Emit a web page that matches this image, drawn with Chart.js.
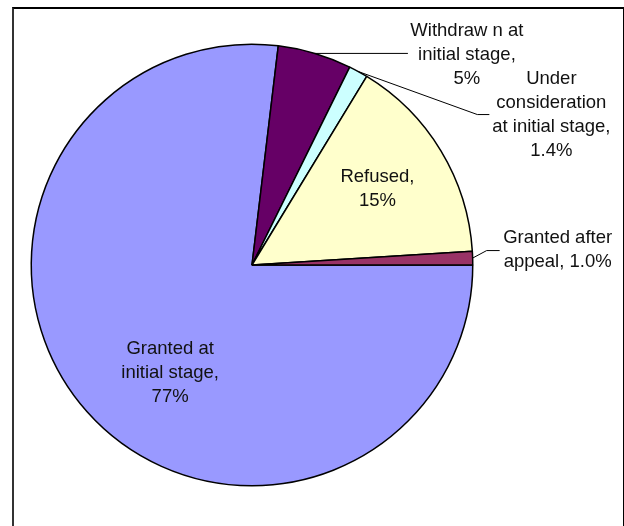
<!DOCTYPE html>
<html>
<head>
<meta charset="utf-8">
<script src="https://cdn.jsdelivr.net/npm/chart.js@4.4.1/dist/chart.umd.min.js"></script>
<style>
    html, body { margin: 0; padding: 0; background: #fff; }
    .chart-wrap { position: relative; width: 624px; height: 526px; }
    .chart-wrap canvas { position: absolute; left: 0; top: 0; }
    .chart-frame {
        position: absolute; left: 12px; top: 7px; width: 609px; height: 530px;
        border-top: 2px solid #000; border-left: 2px solid #333; border-right: 2px solid #000;
    }
</style>
</head>
<body>
<div class="chart-wrap">
    <div class="chart-frame"></div>
    <canvas id="pie" width="624" height="526"></canvas>
</div>
<script>
// slices, clockwise from 3 o'clock
const categories = ['Granted at initial stage', 'Withdrawn at initial stage', 'Under consideration at initial stage', 'Refused', 'Granted after appeal']
const shares = [76.9, 5.4, 1.4, 15.3, 1.0]
const labelLines = [
    ['Granted at', 'initial stage,', '77%'],
    ['Withdraw n at', 'initial stage,', '5%'],
    ['Under', 'consideration', 'at initial stage,', '1.4%'],
    ['Refused,', '15%'],
    ['Granted after', 'appeal, 1.0%']
]
const sliceColors = ['#9999FF', '#660066', '#CCFFFF', '#FFFFCC', '#993366']

// label placement: inside labels sit on the mid angle at a fraction of the radius,
// outside labels hang off the arc edge with a leader line
const labelPlacement = [
    { inside: true, rf: 0.617, dx: 20, dy: 18 },
    { inside: false, dx: 152, dy: 1, ex: 93, ey: 0, elbow: 0 },
    { inside: false, dx: 193, dy: 43, ex: 131, ey: 43, elbow: 12 },
    { inside: true, rf: 0.664, dx: 0, dy: 0 },
    { inside: false, dx: 85, dy: -8.5, ex: 27, ey: -7.5, elbow: 13 }
]

const LINE_HEIGHT = 24
const FONT = '18.5px "Liberation Sans", Arial, sans-serif'

const pieLabels = {
    id: 'pieLabels',
    afterDatasetsDraw: function (chart) {
        const ctx = chart.ctx
        const meta = chart.getDatasetMeta(0)
        ctx.save()
        ctx.font = FONT
        ctx.fillStyle = '#111'
        ctx.textAlign = 'center'
        ctx.textBaseline = 'middle'
        ctx.strokeStyle = '#000'
        ctx.lineWidth = 1

        meta.data.forEach(function (arc, i) {
            const p = arc.getProps(['x', 'y', 'startAngle', 'endAngle', 'outerRadius'], true)
            const mid = (p.startAngle + p.endAngle) / 2
            const place = labelPlacement[i]
            const lines = labelLines[i]
            let cx, cy

            if (place.inside) {
                cx = p.x + Math.cos(mid) * p.outerRadius * place.rf + place.dx
                cy = p.y + Math.sin(mid) * p.outerRadius * place.rf + place.dy
            } else {
                const edgeX = p.x + Math.cos(mid) * p.outerRadius
                const edgeY = p.y + Math.sin(mid) * p.outerRadius
                cx = edgeX + place.dx
                cy = edgeY + place.dy
                const endX = edgeX + place.ex
                const endY = edgeY + place.ey
                ctx.beginPath()
                ctx.moveTo(edgeX, edgeY)
                ctx.lineTo(endX - place.elbow, endY)
                ctx.lineTo(endX, endY)
                ctx.stroke()
            }

            const top = cy - (lines.length - 1) * LINE_HEIGHT / 2
            lines.forEach(function (line, j) {
                ctx.fillText(line, cx, top + j * LINE_HEIGHT)
            })
        })
        ctx.restore()
    }
}

new Chart(document.getElementById('pie'), {
    type: 'pie',
    data: {
        labels: categories,
        datasets: [{
            data: shares,
            backgroundColor: sliceColors,
            borderColor: '#000',
            borderWidth: 1.5
        }]
    },
    options: {
        responsive: false,
        animation: false,
        devicePixelRatio: 1,
        rotation: 90,
        layout: {
            padding: { left: 30.5, right: 150.5, top: 43.5, bottom: 39.5 }
        },
        plugins: {
            legend: { display: false },
            tooltip: { enabled: false }
        }
    },
    plugins: [pieLabels]
})
</script>
</body>
</html>
